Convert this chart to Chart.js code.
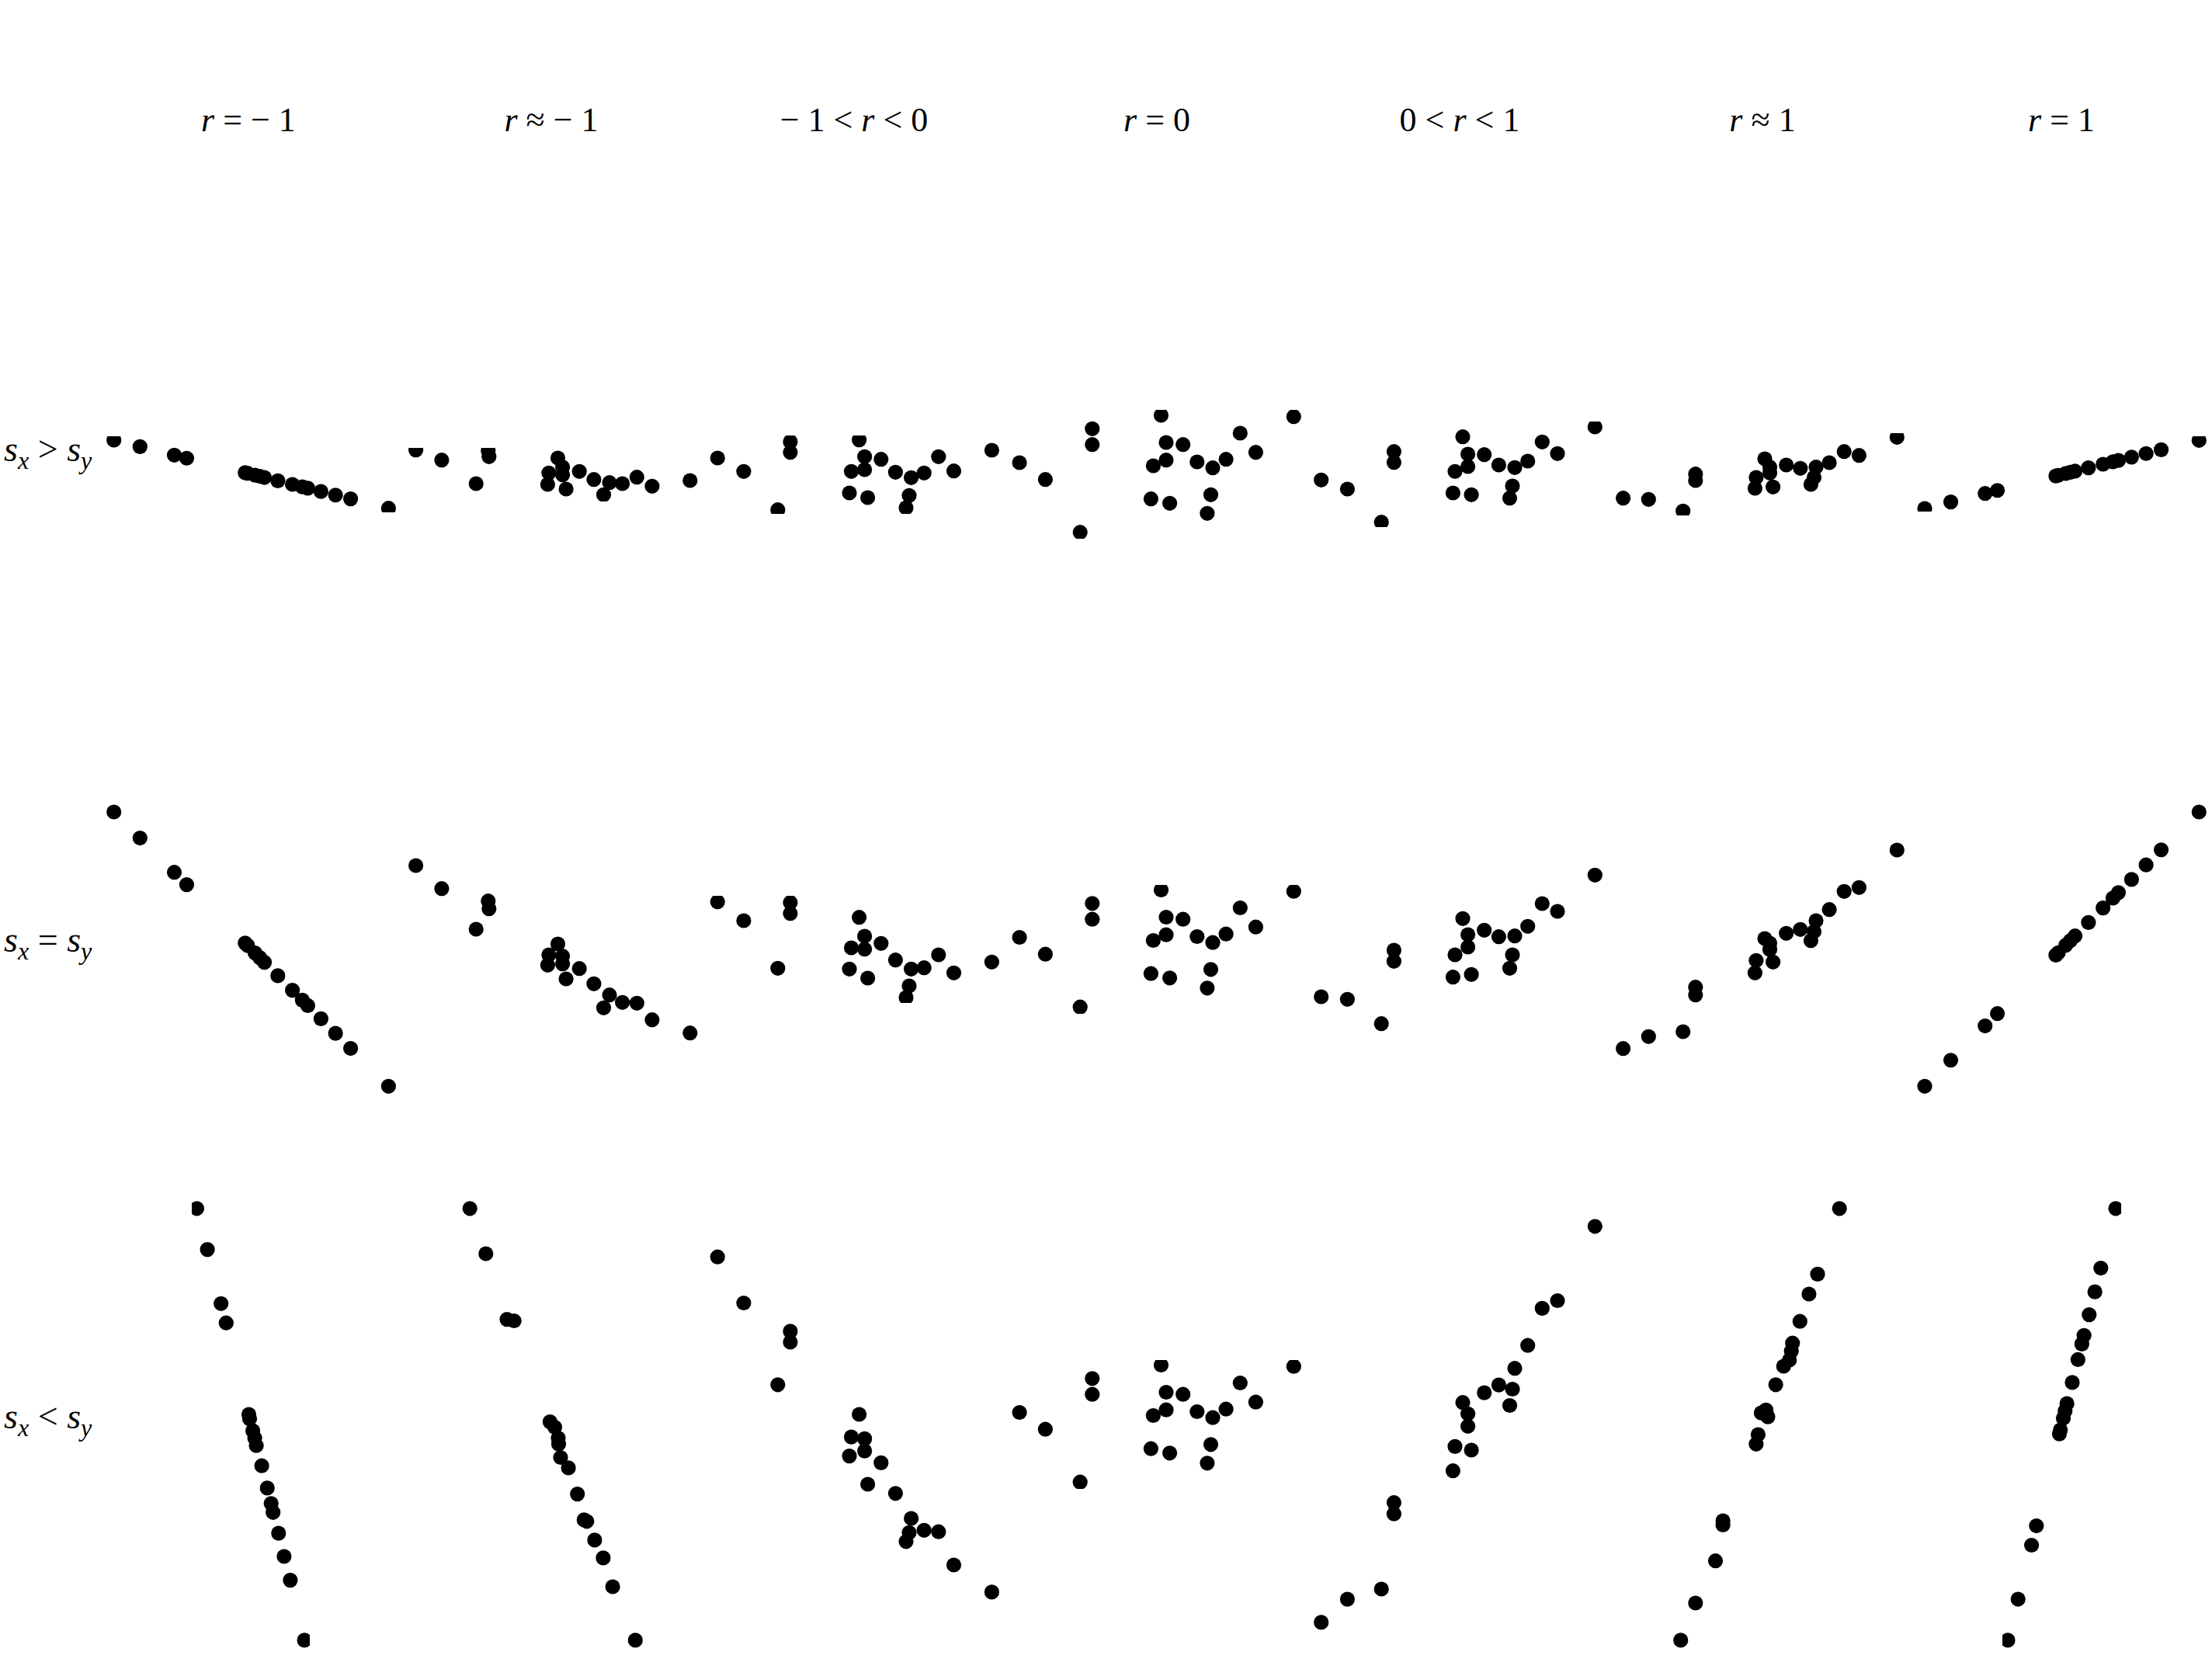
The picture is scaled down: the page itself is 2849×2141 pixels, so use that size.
<!DOCTYPE html>
<html>
<head>
<meta charset="utf-8">
<script src="https://cdn.jsdelivr.net/npm/chart.js@4/dist/chart.umd.min.js"></script>
<style>
html,body{margin:0;padding:0;background:#fff;}
#stage{position:relative;width:2849px;height:2141px;overflow:hidden;background:#fff;
  font-family:"Liberation Serif","Times New Roman",serif;color:#000;}
#stage canvas{position:absolute;}
.title{position:absolute;font-size:44px;line-height:1;white-space:nowrap;transform:translateX(-50%);}
.rowlab{position:absolute;font-size:46px;line-height:1;white-space:nowrap;}
.rowlab sub{font-size:70%;vertical-align:-0.3em;line-height:0;}
</style>
</head>
<body>
<div id="stage"></div>
<script>
// ---------- text ----------
const columnTitles = ["<i>r</i> = − 1", "<i>r</i> ≈ − 1", "− 1 &lt; <i>r</i> &lt; 0", "<i>r</i> = 0",
                      "0 &lt; <i>r</i> &lt; 1", "<i>r</i> ≈ 1", "<i>r</i> = 1"];
const rowLabels = ["<i>s</i><sub><i>x</i></sub> &gt; <i>s</i><sub><i>y</i></sub>",
                   "<i>s</i><sub><i>x</i></sub> = <i>s</i><sub><i>y</i></sub>",
                   "<i>s</i><sub><i>x</i></sub> &lt; <i>s</i><sub><i>y</i></sub>"];

// ---------- data ----------
// column 1 : r = -1
const c1x    = [-3.466,-2.794,-1.91,-1.591,-0.085,-0.021,0.17,0.29,0.411,0.757,1.132,1.387,1.528,1.868,2.243,2.632,3.608];
const r1c1y  = [0.86,0.693,0.474,0.395,0.022,0.006,-0.042,-0.071,-0.101,-0.187,-0.28,-0.343,-0.378,-0.463,-0.555,-0.652,-0.894];
const r2c1y  = [3.48,2.809,1.926,1.608,0.103,0.039,-0.152,-0.272,-0.392,-0.738,-1.113,-1.367,-1.509,-1.848,-2.222,-2.611,-3.586];
const r3c1x  = [-1.33,-1.058,-0.706,-0.574,0.01,0.03,0.112,0.162,0.202,0.342,0.484,0.584,0.634,0.776,0.918,1.078,1.442];
const r3c1y  = [5.564,4.508,3.114,2.616,0.26,0.144,-0.162,-0.352,-0.544,-1.064,-1.638,-2.036,-2.266,-2.802,-3.4,-4.012,-5.558];

// column 2 : r ≈ -1
const c2x    = [-3.488,-2.822,-1.624,-1.604,-1.936,0.17,-0.062,0.292,-0.092,0.292,0.382,0.724,1.098,1.5,1.35,1.832,2.206,2.598,3.576];
const r1c2y  = [0.606,0.346,0.586,0.434,-0.26,0.4,0.014,0.166,-0.28,-0.034,-0.4,0.054,-0.154,-0.234,-0.546,-0.26,-0.094,-0.326,-0.18];
const r2c2y  = [2.1,1.506,1.186,0.986,0.46,0.08,-0.2,-0.234,-0.466,-0.434,-0.82,-0.554,-0.946,-1.234,-1.566,-1.426,-1.446,-1.874,-2.214];
const r3c2x  = [-2.096,-1.684,-1.14,-0.958,-0.032,0.09,0.18,0.19,0.24,0.442,0.674,0.846,0.916,1.118,1.338,1.582,2.166];
const r3c2y  = [5.564,4.4,2.708,2.67,0.068,-0.07,-0.352,-0.506,-0.85,-1.118,-1.792,-2.458,-2.496,-2.978,-3.438,-4.18,-5.558];

// column 3 : -1 < r < 0
const c3x    = [-3.516,-2.842,-1.642,-1.642,-1.964,0.132,0.272,-0.07,0.272,0.696,-0.12,0.352,1.068,1.472,1.804,2.176,2.57,1.42,1.34,3.548];
const r1c3y  = [0.4,0.054,0.82,0.546,-0.934,0.866,0.434,0.054,0.1,0.366,-0.5,-0.62,0.034,-0.106,0.014,0.434,0.066,-0.566,-0.88,0.6];
const r2c3y  = [1.166,0.68,1.146,0.866,-0.546,0.766,0.28,-0.02,-0.054,0.094,-0.566,-0.8,-0.334,-0.566,-0.534,-0.2,-0.666,-1.0,-1.3,-0.386];
const r3c3y  = [4.316,3.13,2.402,2.12,1.024,0.26,-0.368,-0.322,-0.682,-0.988,-0.812,-1.54,-1.776,-2.42,-2.726,-2.764,-3.62,-2.786,-3.016,-4.318];

// column 4 : r = 0 (same sample in every row)
const c4x    = [-3.538,-2.872,-1.976,-1.664,-1.664,0.11,0.24,0.674,-0.092,0.24,-0.152,0.332,1.036,1.44,1.782,1.39,1.298,2.146,2.548,3.526];
const c4y    = [0.28,-0.154,-1.514,1.154,0.746,1.5,0.8,0.746,0.2,0.346,-0.654,-0.766,0.3,0.146,0.366,-0.546,-1.026,1.04,0.546,1.466];

// column 5 : 0 < r < 1
const c5x    = [-3.566,-2.892,-1.692,-1.692,-2.016,0.08,0.212,0.212,-0.12,0.634,-0.172,0.302,1.008,1.42,1.754,2.126,2.52,1.36,1.29,3.486];
const r1c5y  = [-0.166,-0.4,0.566,0.286,-1.254,0.946,0.5,0.18,0.054,0.486,-0.5,-0.546,0.22,0.154,0.32,0.814,0.514,-0.32,-0.634,1.2];
const r2c5y  = [-1.28,-1.346,-0.08,-0.366,-1.974,0.734,0.32,0,-0.2,0.434,-0.774,-0.706,0.266,0.286,0.534,1.12,0.92,-0.2,-0.546,1.854];
const r3c5y  = [-5.098,-4.502,-2.014,-2.304,-4.24,0.566,0.274,-0.046,-0.568,0.818,-1.194,-0.66,1.018,1.446,2.036,2.992,3.19,0.91,0.49,5.104];

// column 6 : r ≈ 1
const c6x    = [-3.588,-2.934,-2.046,-1.724,-1.724,0.06,0.19,0.19,-0.162,-0.192,0.272,0.614,0.976,1.38,1.33,1.248,1.722,2.104,2.488,3.466];
const r1c6y  = [-0.634,-0.666,-0.966,-0.014,-0.18,0.38,0.166,0.014,-0.1,-0.38,-0.346,0.22,0.134,0.166,-0.1,-0.28,0.28,0.566,0.466,0.934];
const r2c6y  = [-2.614,-2.306,-2.18,-1.034,-1.234,0.22,0.1,-0.066,-0.346,-0.666,-0.386,0.354,0.454,0.68,0.4,0.166,0.966,1.434,1.534,2.5];
const r3c6x  = [-2.106,-1.724,-1.21,-1.018,-1.018,0.09,-0.032,0.14,-0.112,-0.162,0.342,0.544,0.694,0.744,0.774,0.966,1.198,1.42,1.984];
const r3c6y  = [-5.558,-4.6,-3.514,-2.48,-2.588,0.374,0.298,0.198,-0.26,-0.506,1.024,1.5,1.66,1.89,2.096,2.656,3.36,3.872,5.564];

// column 7 : r = 1
const c7x    = [-3.52,-2.849,-1.965,-1.648,-0.142,-0.079,0.112,0.232,0.352,0.698,1.073,1.327,1.469,1.808,2.182,2.571,3.546];
const r1c7y  = [-0.9,-0.733,-0.514,-0.435,-0.062,-0.046,0.002,0.031,0.061,0.147,0.24,0.303,0.338,0.423,0.515,0.612,0.854];
const r2c7y  = [-3.586,-2.915,-2.031,-1.714,-0.208,-0.145,0.046,0.166,0.286,0.632,1.007,1.261,1.403,1.742,2.116,2.505,3.48];
const r3c7x  = [-1.38,-1.116,-0.768,-0.643,-0.051,-0.026,0.049,0.096,0.143,0.28,0.427,0.527,0.583,0.716,0.863,1.016,1.4];
const r3c7y  = [-5.558,-4.501,-3.11,-2.611,-0.242,-0.142,0.159,0.348,0.537,1.082,1.671,2.072,2.294,2.828,3.417,4.029,5.564];

// panel series table: [row][col] -> [xs, ys]
const panelSeries = [
  [[c1x,r1c1y],[c2x,r1c2y],[c3x,r1c3y],[c4x,c4y],[c5x,r1c5y],[c6x,r1c6y],[c7x,r1c7y]],
  [[c1x,r2c1y],[c2x,r2c2y],[c3x,r2c3y],[c4x,c4y],[c5x,r2c5y],[c6x,r2c6y],[c7x,r2c7y]],
  [[r3c1x,r3c1y],[r3c2x,r3c2y],[c3x,r3c3y],[c4x,c4y],[c5x,r3c5y],[r3c6x,r3c6y],[r3c7x,r3c7y]]
];

// axis ranges of each panel (plot range; short side is cut at the data extremes)
const xRanges = [
  [[-3.77,3.91],[-3.79,3.88],[-3.82,3.85],[-3.84,3.83],[-3.87,3.79],[-3.89,3.77],[-3.82,3.85]],
  [[-3.77,3.91],[-3.79,3.88],[-3.82,3.85],[-3.84,3.83],[-3.87,3.79],[-3.89,3.77],[-3.82,3.85]],
  [[-1.46,1.572],[-2.4,2.47],[-3.82,3.85],[-3.84,3.83],[-3.87,3.79],[-2.41,2.29],[-1.514,1.546]]
];
const yRanges = [
  [[-1.0,0.954],[-0.714,0.666],[-1.034,0.986],[-1.68,1.64],[-1.38,1.346],[-1.08,1.034],[-0.986,0.954]],
  [[-3.89,3.78],[-2.51,2.4],[-1.434,1.314],[-1.68,1.64],[-2.27,2.15],[-2.91,2.8],[-3.89,3.78]],
  [[-5.86,5.86],[-5.86,5.86],[-4.62,4.62],[-1.68,1.64],[-5.4,5.4],[-5.86,5.86],[-5.86,5.86]]
];

// ---------- layout ----------
const UNIT = 50;                      // pixels per data unit
const colCenters = [320,710,1100,1490,1880,2270,2655];
const rowCenters = [
  [610,610,610,610,610,610,610],
  [1220,1220,1220,1221.5,1220,1220,1220],
  [1835,1835,1835,1833.5,1835,1835,1835]
];
const titleTop = 133;
const rowLabelTops = [556,1188,1802];
const rowLabelLeft = 5;

const stage = document.getElementById('stage');

columnTitles.forEach((t,i)=>{
  const d = document.createElement('div');
  d.className = 'title';
  d.innerHTML = t;
  d.style.left = colCenters[i] + 'px';
  d.style.top = titleTop + 'px';
  stage.appendChild(d);
});
rowLabels.forEach((t,i)=>{
  const d = document.createElement('div');
  d.className = 'rowlab';
  d.innerHTML = t;
  d.style.left = rowLabelLeft + 'px';
  d.style.top = rowLabelTops[i] + 'px';
  stage.appendChild(d);
});

function makePanel(row, col){
  const [xs, ys] = panelSeries[row][col];
  const [xmin, xmax] = xRanges[row][col];
  const [ymin, ymax] = yRanges[row][col];
  const cx = colCenters[col], cy = rowCenters[row][col];
  const left = Math.round(cx + xmin*UNIT), right = Math.round(cx + xmax*UNIT);
  const top = Math.round(cy - ymax*UNIT), bottom = Math.round(cy - ymin*UNIT);
  const w = right-left, h = bottom-top;
  const cv = document.createElement('canvas');
  cv.width = w; cv.height = h;
  cv.style.left = left+'px'; cv.style.top = top+'px';
  cv.style.width = w+'px'; cv.style.height = h+'px';
  stage.appendChild(cv);
  new Chart(cv, {
    type: 'scatter',
    data: { datasets: [{
      data: xs.map((x,i)=>({x:x, y:ys[i]})),
      pointRadius: 9.6, pointHoverRadius: 9.6,
      backgroundColor: '#000', borderWidth: 0, clip: 0
    }]},
    options: {
      responsive: false, animation: false, devicePixelRatio: 1, events: [],
      layout: { padding: 0, autoPadding: false },
      plugins: { legend: {display:false}, tooltip: {enabled:false}, title:{display:false} },
      scales: {
        x: { type:'linear', display:false, min:(left-cx)/UNIT, max:(right-cx)/UNIT },
        y: { type:'linear', display:false, min:(cy-bottom)/UNIT, max:(cy-top)/UNIT }
      }
    }
  });
}
for (let r=0;r<3;r++) for (let c=0;c<7;c++) makePanel(r,c);
</script>
</body>
</html>
